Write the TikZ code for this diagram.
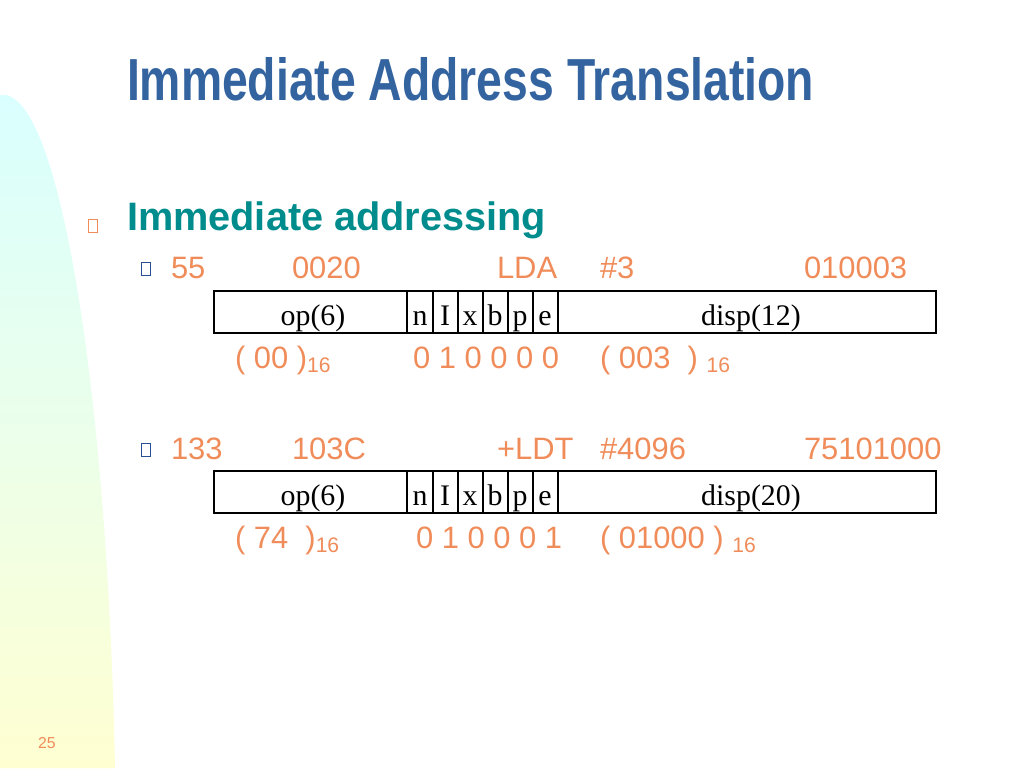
\documentclass[tikz,border=0pt]{standalone}
\usepackage{fontspec}
\setmainfont{Liberation Sans}
\newfontfamily\serifbox{Liberation Serif}
\usepackage{tikz}
\usetikzlibrary{positioning}
\definecolor{titleblue}{RGB}{52,100,160}
\definecolor{headteal}{RGB}{0,140,140}
\definecolor{numorange}{RGB}{240,140,90}
\definecolor{bulletblue}{RGB}{40,80,150}

\begin{document}
\begin{tikzpicture}[x=0.02cm,y=-0.02cm]
	  \tikzstyle{every node} = [inner sep=0pt, outer sep=0pt]
	  \tikzstyle{num} = [anchor=base west, text=numorange, font=\fontsize{17.6}{20}\selectfont]
	  \tikzstyle{fld} = [anchor=base, font=\serifbox\fontsize{17}{19}\selectfont]
	  \tikzstyle{bul} = [draw=bulletblue, line width=0.5pt, minimum width=5pt, minimum height=7pt]
	  \useasboundingbox (0,0) rectangle (1024,768);
	  \shade[top color=cyan!15, bottom color=yellow!18, middle color=green!8]
	    (0,768) -- (0,95) .. controls (60,85) and (108,400) .. (115,768) -- cycle;
	  % title
	  \node (title) [anchor=base west, text=titleblue, font=\bfseries\fontsize{33.8}{38}\selectfont]
	    at (127,100) {\scalebox{0.78}[1]{Immediate Address Translation}};
	  \node (head) [anchor=base west, text=headteal, font=\bfseries\fontsize{22.6}{26}\selectfont]
	    at (127,230) {Immediate addressing};
	  \node (hb) [bul, draw=numorange] at (93,226) {};
	  % first instruction
	  \node (b1) [bul] at (146,269) {};
	  \node (l1a) [num] at (171,278) {55};
	  \node (l1b) [num] at (292,278) {0020};
	  \node (l1c) [num] at (497,278) {LDA};
	  \node (l1d) [num] at (600,278) {\#3};
	  \node (l1e) [num] at (804,278) {010003};
	  \draw[line width=1.6pt] (214,291) rectangle (936,333);
	  \foreach \x in {407,433,458,483,508,533,558}
	    \draw[line width=0.6pt] (\x,291) -- (\x,333);
	  \node (op1) [fld] at (313,325) {op(6)};
	  \node (ds1) [fld] at (751,325) {disp(12)};
	  \foreach \c/\x in {n/420,I/445,x/470,b/495,p/520,e/545}
	    \node [fld] at (\x,325) {\c};
	  \node (v1a) [num] at (235,368) {( 00 )\textsubscript{\fontsize{12}{13}\selectfont 16}};
	  \node (v1b) [num] at (413,368) {0 1 0 0 0 0};
	  \node (v1c) [num] at (600,368) {( 003~ ) \textsubscript{\fontsize{12}{13}\selectfont 16}};
	  % second instruction
	  \node (b2) [bul] at (146,450) {};
	  \node (l2a) [num] at (171,459) {133};
	  \node (l2b) [num] at (292,459) {103C};
	  \node (l2c) [num] at (497,459) {+LDT};
	  \node (l2d) [num] at (600,459) {\#4096};
	  \node (l2e) [num] at (804,459) {75101000};
	  \draw[line width=1.6pt] (214,471) rectangle (936,513);
	  \foreach \x in {407,433,458,483,508,533,558}
	    \draw[line width=0.6pt] (\x,471) -- (\x,513);
	  \node (op2) [fld] at (313,505) {op(6)};
	  \node (ds2) [fld] at (751,505) {disp(20)};
	  \foreach \c/\x in {n/420,I/445,x/470,b/495,p/520,e/545}
	    \node [fld] at (\x,505) {\c};
	  \node (v2a) [num] at (235,548) {( 74~ )\textsubscript{\fontsize{12}{13}\selectfont 16}};
	  \node (v2b) [num] at (416,548) {0 1 0 0 0 1};
	  \node (v2c) [num] at (600,548) {( 01000 ) \textsubscript{\fontsize{12}{13}\selectfont 16}};
	  \node (pg) [anchor=base west, text=numorange, font=\fontsize{9}{10}\selectfont] at (38,748) {25};
	\end{tikzpicture}
\end{document}
